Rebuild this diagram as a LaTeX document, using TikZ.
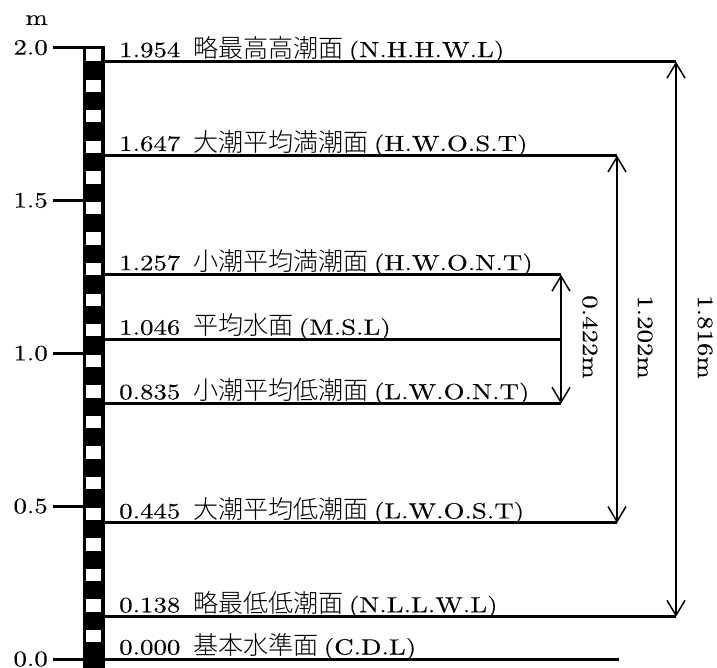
\documentclass[tikz,border=0pt]{standalone}
\usepackage{fontspec}
\setmainfont{lmroman10-regular.otf}[FakeStretch=1.22,FakeBold=0.2]
\newfontfamily\jpfont[Scale=1.14]{Noto Sans CJK JP Light}
\usetikzlibrary{arrows.meta}
\newcommand\lvltxt[3]{#1\hspace{13pt}{\jpfont #2}\hspace{5pt}(#3)}
\begin{document}
\begin{tikzpicture}[x=1pt,y=305.7pt,
  txt/.style={font=\fontsize{22}{26}\selectfont, inner sep=0pt},
  lvltext/.style={txt, anchor=base west, yshift=4.5pt},
  levelline/.style={line width=3pt},
  tickline/.style={line width=3pt},
  dim/.style={line width=1.5pt, {Straight Barb[length=15pt,width=18pt]}-{Straight Barb[length=15pt,width=18pt]}},
  vlab/.style={txt, rotate=-90}
]
\useasboundingbox (0,-0.02617) rectangle (717,2.15571);

% staff
\fill[black] (83,-0.1) rectangle (105,2.0);
\foreach \k in {1,...,20}{
  \pgfmathsetmacro\ylo{0.1*\k-0.05+0.0049}
  \pgfmathsetmacro\yhi{0.1*\k-0.0049}
  \fill[white] (86,\ylo) rectangle (101,\yhi);
}

% ticks and scale labels
\draw[tickline] (53,2.0) -- (105,2.0);
\foreach \v in {1.5,1.0,0.5,0.0}{
  \draw[tickline] (53,\v) -- (83.5,\v);
}
\node[txt, anchor=east] (s20) at (48,2.0) {2.0};
\node[txt, anchor=east] (s15) at (48,1.5) {1.5};
\node[txt, anchor=east] (s10) at (48,1.0) {1.0};
\node[txt, anchor=east] (s05) at (48,0.5) {0.5};
\node[txt, anchor=east] (s00) at (48,0.0) {0.0};
\node[txt, anchor=base east] (unit) at (48,2.0739) {m};

% level lines
\coordinate (a1) at (104,1.954); \coordinate (b1) at (676,1.954);
\coordinate (a2) at (104,1.647); \coordinate (b2) at (617,1.647);
\coordinate (a3) at (104,1.257); \coordinate (b3) at (561,1.257);
\coordinate (a4) at (104,1.046); \coordinate (b4) at (561,1.046);
\coordinate (a5) at (104,0.835); \coordinate (b5) at (561,0.835);
\coordinate (a6) at (104,0.445); \coordinate (b6) at (617,0.445);
\coordinate (a7) at (104,0.138); \coordinate (b7) at (676,0.138);
\coordinate (a8) at (104,0.000); \coordinate (b8) at (619,0.000);
\foreach \i in {1,...,8}{ \draw[levelline] (a\i) -- (b\i); }

\node[lvltext] (n1) at (119,1.954) {\lvltxt{1.954}{略最高高潮面}{N.H.H.W.L}};
\node[lvltext] (n2) at (119,1.647) {\lvltxt{1.647}{大潮平均満潮面}{H.W.O.S.T}};
\node[lvltext] (n3) at (119,1.257) {\lvltxt{1.257}{小潮平均満潮面}{H.W.O.N.T}};
\node[lvltext] (n4) at (119,1.046) {\lvltxt{1.046}{平均水面}{M.S.L}};
\node[lvltext] (n5) at (119,0.835) {\lvltxt{0.835}{小潮平均低潮面}{L.W.O.N.T}};
\node[lvltext] (n6) at (119,0.445) {\lvltxt{0.445}{大潮平均低潮面}{L.W.O.S.T}};
\node[lvltext] (n7) at (119,0.138) {\lvltxt{0.138}{略最低低潮面}{N.L.L.W.L}};
\node[lvltext] (n8) at (119,0.000) {\lvltxt{0.000}{基本水準面}{C.D.L}};

% dimension arrows
\draw[dim] (b3) -- (b5);
\draw[dim] (b2) -- (b6);
\draw[dim] (b1) -- (b7);
\node[vlab] (d1) at (590,1.0533) {0.422m};
\node[vlab] (d2) at (645,1.0533) {1.202m};
\node[vlab] (d3) at (705,1.0533) {1.816m};
\end{tikzpicture}
\end{document}
